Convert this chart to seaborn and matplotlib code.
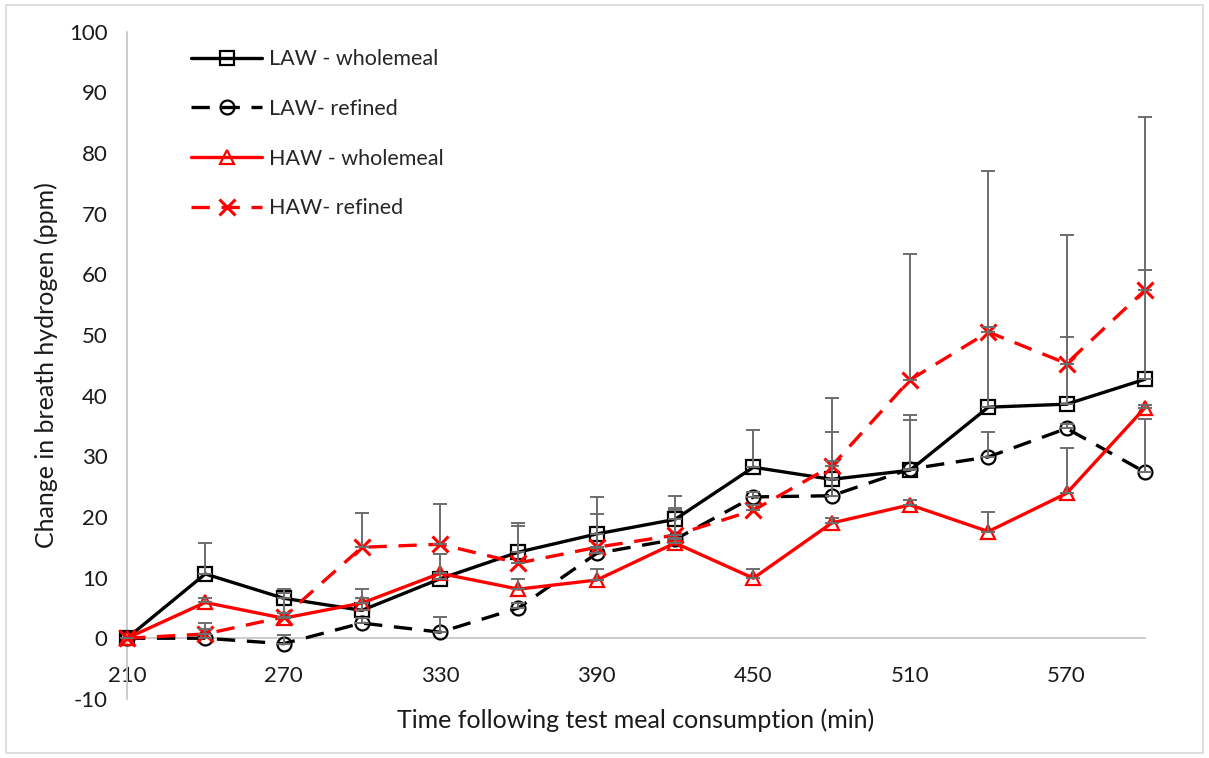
import numpy as np
import pandas as pd
import matplotlib
matplotlib.use("Agg")
import matplotlib.pyplot as plt
import seaborn as sns
from matplotlib.patches import Rectangle

# Sampling times (min) after the test meal
times = [210, 240, 270, 300, 330, 360, 390, 420, 450, 480, 510, 540, 570, 600]

# Mean change in breath hydrogen (ppm) and upper error (ppm)
law_whole = [0, 10.6, 6.6, 4.6, 9.8, 14.2, 17.2, 19.6, 28.2, 26.2, 27.7, 38.1, 38.6, 42.7]
law_whole_err = [0, 5.1, 1.5, 3.5, 4.1, 4.8, 6.1, 3.8, 6.1, 13.4, 9.1, 39.0, 27.9, 43.3]

law_ref = [0, 0.0, -0.9, 2.5, 1.0, 5.0, 14.0, 16.3, 23.3, 23.5, 27.9, 29.9, 34.6, 27.4]
law_ref_err = [0, 2.5, 1.4, 0.8, 2.5, 0.8, 0.8, 4.9, 0.8, 10.5, 8.1, 4.1, 0.8, 8.7]

haw_whole = [0, 5.9, 3.3, 5.8, 10.7, 8.1, 9.6, 15.7, 9.9, 19.0, 22.0, 17.6, 23.9, 38.0]
haw_whole_err = [0, 0.8, 0.8, 0.8, 3.2, 1.6, 1.9, 0.8, 1.6, 0.8, 0.8, 3.2, 7.5, 0.5]

haw_ref = [0, 0.7, 3.5, 15.0, 15.5, 12.4, 15.0, 17.0, 21.1, 28.4, 42.6, 50.5, 45.3, 57.4]
haw_ref_err = [0, 0.8, 3.9, 5.6, 6.6, 6.1, 5.5, 4.4, 0.8, 0.8, 20.8, 0.8, 4.4, 3.3]

series_labels = ["LAW - wholemeal", "LAW- refined", "HAW - wholemeal", "HAW- refined"]
x_tick_labels = ["210", "270", "330", "390", "450", "510", "570"]

sns.set_theme(style="white")
plt.rcParams["font.family"] = ["Lato", "DejaVu Sans"]
plt.rcParams["axes.unicode_minus"] = False

series = [
    (law_whole, law_whole_err, "black", "s", "-"),
    (law_ref, law_ref_err, "black", "o", (0, (5.5, 3.5))),
    (haw_whole, haw_whole_err, "#ff0000", "^", "-"),
    (haw_ref, haw_ref_err, "#ff0000", "x", (0, (5.5, 3.5))),
]

fig = plt.figure(figsize=(12.09, 7.58), dpi=100)
ax = fig.add_axes([0.105, 0.078, 0.842, 0.880])

for (vals, errs, color, marker, ls), label in zip(series, series_labels):
    df = pd.DataFrame({"time": times, "h2": vals})
    sns.lineplot(
        data=df, x="time", y="h2", ax=ax, color=color, linewidth=2.4,
        linestyle=ls, marker=marker, markersize=10 if marker != "x" else 11,
        markerfacecolor="none" if marker != "x" else color,
        markeredgecolor=color, markeredgewidth=1.6 if marker != "x" else 2.2,
        label=label, clip_on=False, zorder=3,
    )
    ax.errorbar(
        times, vals, yerr=[np.zeros(len(errs)), errs], fmt="none",
        ecolor="#6d6d6d", elinewidth=1.4, capsize=5, capthick=1.4,
        zorder=4, clip_on=False,
    )

ax.set_xlim(210, 600)
ax.set_ylim(-10, 100)
ax.set_xticks([210, 270, 330, 390, 450, 510, 570])
ax.set_xticklabels(x_tick_labels)
ax.set_yticks(np.arange(-10, 101, 10))
ax.tick_params(axis="both", length=0, labelsize=16, colors="#1a1a1a")
ax.tick_params(axis="x", pad=20)
ax.tick_params(axis="y", pad=14)

for side in ("top", "right"):
    ax.spines[side].set_visible(False)
ax.spines["bottom"].set_position(("data", 0))
ax.spines["bottom"].set_color("#c8c8c8")
ax.spines["bottom"].set_linewidth(1.3)
ax.spines["left"].set_color("#c8c8c8")
ax.spines["left"].set_linewidth(1.3)

ax.set_xlabel("Time following test meal consumption (min)", fontsize=18, color="#1a1a1a")
ax.set_ylabel("Change in breath hydrogen (ppm)", fontsize=18, color="#1a1a1a")
ax.xaxis.set_label_coords(0.5, -0.015)
ax.yaxis.set_label_coords(-0.068, 0.5)

leg = ax.legend(
    loc="upper left", bbox_to_anchor=(0.044, 1.003), frameon=False, fontsize=15.5,
    handlelength=3.3, labelspacing=1.38, handletextpad=0.3,
)

fig.patches.append(Rectangle((0.005, 0.006), 0.99, 0.988, transform=fig.transFigure,
                             fill=False, edgecolor="#d9d9d9", linewidth=1.2))

fig.savefig("out.png", dpi=100)
